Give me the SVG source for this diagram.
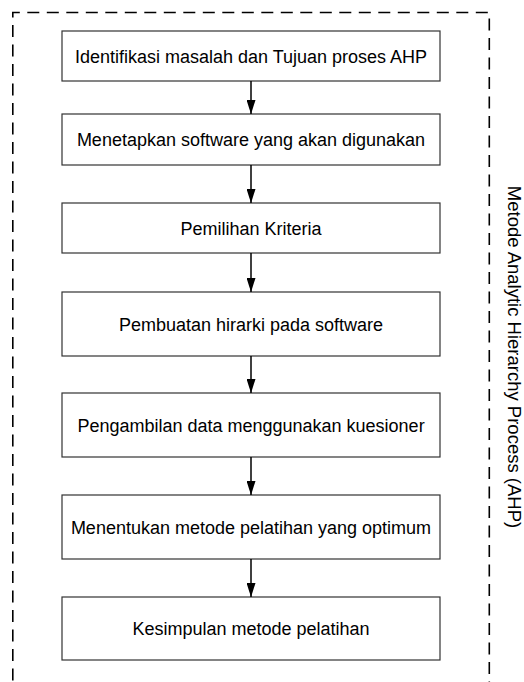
<svg xmlns="http://www.w3.org/2000/svg" width="524" height="682" viewBox="0 0 524 682">
<defs>
<style>
.box{fill:#fff;stroke:#333;stroke-width:1.2}
.lbl{font-family:"Liberation Sans",Arial,sans-serif;font-size:18px;fill:#000;text-anchor:middle}
.side{font-size:18.5px}
.conn{stroke:#000;stroke-width:1.5;fill:none}
.border{fill:none;stroke:#000;stroke-width:1.6;stroke-dasharray:12 7.5}
</style>
<marker id="ah" viewBox="0 0 14 9" refX="14" refY="4.5" markerWidth="14" markerHeight="9" markerUnits="userSpaceOnUse" orient="auto">
<path d="M0,0 L14,4.5 L0,9 Z" fill="#000"/>
</marker>
</defs>
<rect width="524" height="682" fill="#fff"/>
<path id="border" class="border" d="M12.8,700 V12.5 H489.3 V700"/>
<g id="n1"><rect class="box" x="62" y="31" width="378" height="50"/><text class="lbl" x="251" y="62.5">Identifikasi masalah dan Tujuan proses AHP</text></g>
<g id="n2"><rect class="box" x="62" y="114" width="378" height="51"/><text class="lbl" x="251" y="146">Menetapkan software yang akan digunakan</text></g>
<g id="n3"><rect class="box" x="62" y="203" width="378" height="50"/><text class="lbl" x="251" y="234.5">Pemilihan Kriteria</text></g>
<g id="n4"><rect class="box" x="62" y="292" width="378" height="64"/><text class="lbl" x="251" y="330.5">Pembuatan hirarki pada software</text></g>
<g id="n5"><rect class="box" x="62" y="393" width="378" height="64"/><text class="lbl" x="251" y="431.5">Pengambilan data menggunakan kuesioner</text></g>
<g id="n6"><rect class="box" x="62" y="495" width="378" height="64"/><text class="lbl" x="251" y="533.5">Menentukan metode pelatihan yang optimum</text></g>
<g id="n7"><rect class="box" x="62" y="597" width="378" height="63"/><text class="lbl" x="251" y="635">Kesimpulan metode pelatihan</text></g>
<g id="connectors">
<line class="conn" x1="251" y1="81" x2="251" y2="114" marker-end="url(#ah)"/>
<line class="conn" x1="251" y1="165" x2="251" y2="203" marker-end="url(#ah)"/>
<line class="conn" x1="251" y1="253" x2="251" y2="292" marker-end="url(#ah)"/>
<line class="conn" x1="251" y1="356" x2="251" y2="393" marker-end="url(#ah)"/>
<line class="conn" x1="251" y1="457" x2="251" y2="495" marker-end="url(#ah)"/>
<line class="conn" x1="251" y1="559" x2="251" y2="597" marker-end="url(#ah)"/>
</g>
<text id="side" class="lbl side" transform="translate(507.5,357) rotate(90)" x="0" y="0">Metode Analytic Hierarchy Process (AHP)</text>
</svg>
